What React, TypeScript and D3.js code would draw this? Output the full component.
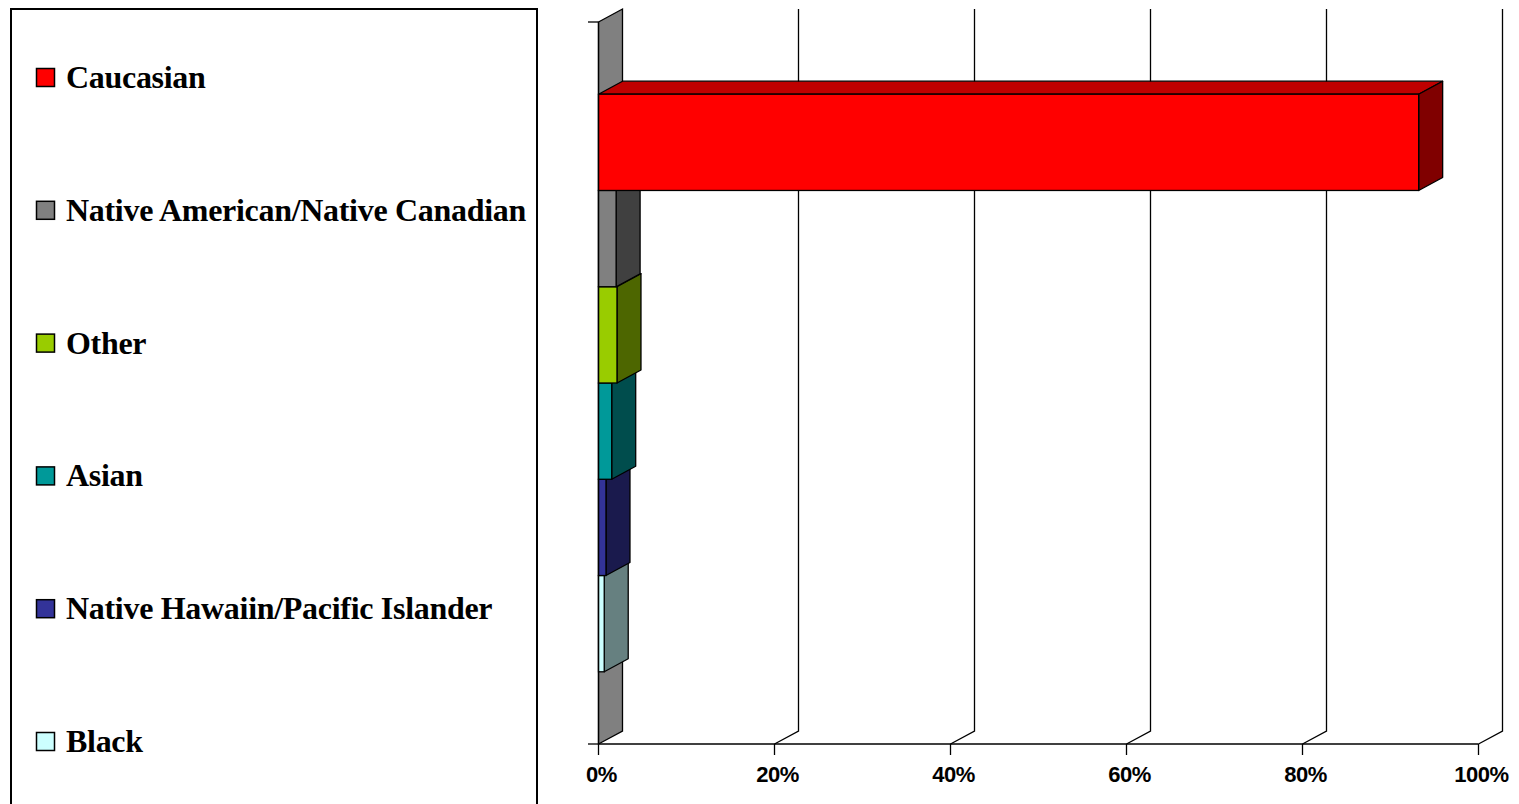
import React from "react";
import * as d3 from "d3";

// Ethnicity breakdown, share of total (fraction)
const groups = [
  "Caucasian",
  "Native American/Native Canadian",
  "Other",
  "Asian",
  "Native Hawaiin/Pacific Islander",
  "Black",
];
const shares = [0.932, 0.02, 0.021, 0.015, 0.0085, 0.0065];
const groupColors = ["#FF0000", "#808080", "#99CC00", "#009999", "#333399", "#CCFFFF"];
const tickValues = [0, 0.2, 0.4, 0.6, 0.8, 1.0];
const tickLabels = ["0%", "20%", "40%", "60%", "80%", "100%"];

const W = 1519;
const H = 804;
// plot frame (front plane)
const X0 = 598.5;
const X1 = 1478.5;
const YTOP = 22;
const YBOT = 744;
// 3D depth offset
const DX = 24;
const DY = -13;

function shade(c: string, k: number) {
  const r = d3.rgb(c);
  return d3.rgb(r.r * k, r.g * k, r.b * k).formatHex();
}

function pts(p: [number, number][]) {
  return p.map((q) => q.join(",")).join(" ");
}

export default function App() {
  const x = d3.scaleLinear().domain([0, 1]).range([X0, X1]);
  const y = d3
    .scaleBand<string>()
    .domain(groups)
    .range([YTOP, YBOT])
    .paddingInner(0)
    .paddingOuter(0.75);

  const stroke = "#000";
  const sw = 1.3;

  // bars painted bottom-up so upper bars hide the top faces below them
  const order = groups.map((g, i) => i).reverse();

  return (
    <svg
      width={W}
      height={H}
      style={{ position: "absolute", left: 0, top: 0, background: "#fff" }}
    >
      {/* legend frame */}
      <rect x={11} y={9} width={526} height={820} fill="#fff" stroke="#000" strokeWidth={2} />
      {groups.map((g, i) => {
        const cy = 77.5 + i * 132.8;
        return (
          <g key={g}>
            <rect x={36.5} y={cy - 9} width={18} height={18} fill={groupColors[i]} stroke="#000" strokeWidth={1.5} />
            <text
              x={66}
              y={cy + 10.5}
              fontFamily="'Liberation Serif', 'Times New Roman', serif"
              fontWeight="bold"
              fontSize={32}
              letterSpacing={-0.3}
              fill="#000"
            >
              {g}
            </text>
          </g>
        );
      })}

      {/* side wall */}
      <polygon
        points={pts([
          [X0, YTOP],
          [X0 + DX, YTOP + DY],
          [X0 + DX, YBOT + DY],
          [X0, YBOT],
        ])}
        fill="#808080"
        stroke={stroke}
        strokeWidth={sw}
      />

      {/* gridlines: floor diagonal + back wall vertical */}
      {tickValues.slice(1).map((t) => (
        <polyline
          key={t}
          points={pts([
            [x(t), YBOT],
            [x(t) + DX, YBOT + DY],
            [x(t) + DX, YTOP + DY],
          ])}
          fill="none"
          stroke="#000"
          strokeWidth={1.3}
        />
      ))}

      {/* bars */}
      {order.map((i) => {
        const g = groups[i];
        const y0 = y(g) as number;
        const y1 = y0 + y.bandwidth();
        const xl = x(0);
        const xr = x(shares[i]);
        const c = groupColors[i];
        return (
          <g key={g}>
            <polygon
              points={pts([
                [xl, y0],
                [xl + DX, y0 + DY],
                [xr + DX, y0 + DY],
                [xr, y0],
              ])}
              fill={shade(c, 0.75)}
              stroke={stroke}
              strokeWidth={sw}
              strokeLinejoin="round"
            />
            <polygon
              points={pts([
                [xr, y0],
                [xr + DX, y0 + DY],
                [xr + DX, y1 + DY],
                [xr, y1],
              ])}
              fill={shade(c, 0.5)}
              stroke={stroke}
              strokeWidth={sw}
              strokeLinejoin="round"
            />
            <rect x={xl} y={y0} width={xr - xl} height={y1 - y0} fill={c} stroke={stroke} strokeWidth={sw} />
          </g>
        );
      })}

      {/* category axis */}
      <line x1={X0} y1={YTOP} x2={X0} y2={YBOT} stroke="#000" strokeWidth={1.3} />
      <line x1={588} y1={YTOP} x2={X0} y2={YTOP} stroke="#000" strokeWidth={1.3} />
      <line x1={588} y1={YBOT} x2={X0} y2={YBOT} stroke="#000" strokeWidth={1.3} />

      {/* value axis */}
      <line x1={X0} y1={YBOT} x2={X1} y2={YBOT} stroke="#000" strokeWidth={1.3} />
      {tickValues.map((t, i) => (
        <g key={t}>
          <line x1={x(t)} y1={YBOT} x2={x(t)} y2={YBOT + 11} stroke="#000" strokeWidth={1.3} />
          <text
            x={x(t) + 3}
            y={782}
            textAnchor="middle"
            fontFamily="'Liberation Sans', Arial, sans-serif"
            fontWeight="bold"
            fontSize={22}
            letterSpacing={-0.5}
            fill="#000"
          >
            {tickLabels[i]}
          </text>
        </g>
      ))}
    </svg>
  );
}
